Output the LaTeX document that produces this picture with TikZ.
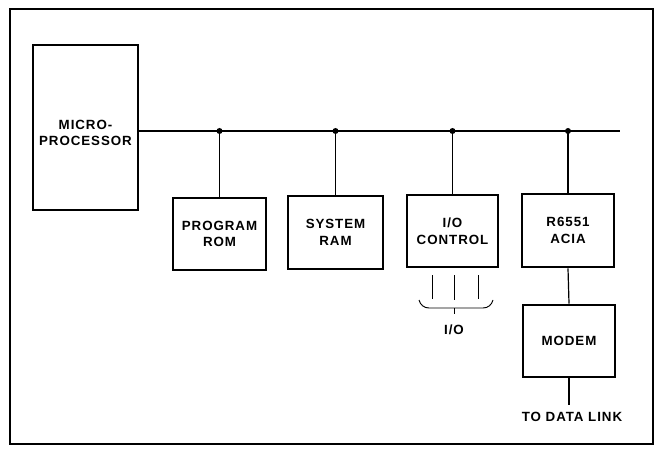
\documentclass[tikz,border=0pt]{standalone}
\usepackage{fontspec}
\setmainfont{Liberation Sans}[LetterSpace=7]
\begin{document}
\begin{tikzpicture}[x=0.75pt,y=-0.75pt,
  blk/.style={draw,line width=2.1pt,inner sep=0pt,align=center,font=\bfseries\fontsize{10}{12.5}\selectfont},
  lbl/.style={inner sep=1pt,align=center,font=\bfseries\fontsize{10}{12}\selectfont},
  wire/.style={line width=1.1pt},
  drop/.style={line width=0.9pt},
  thin/.style={line width=0.7pt},
  dot/.style={circle,fill,inner sep=0pt,minimum size=4.5pt}]
\useasboundingbox (0,0) rectangle (663,452);
\draw[line width=1.1pt] (10,9) rectangle (653,444);
\node[blk,minimum width=105*0.75pt,minimum height=165*0.75pt] (micro) at (85.5,127.5) {};
\node[lbl,font=\bfseries\fontsize{10}{12}\selectfont] (microtxt) at (85.5,133) {MICRO-\\PROCESSOR};
\node[blk,minimum width=93*0.75pt,minimum height=72*0.75pt] (rom) at (219.5,234) {PROGRAM\\ROM};
\node[blk,minimum width=95*0.75pt,minimum height=73*0.75pt] (ram) at (335.5,232.5) {SYSTEM\\RAM};
\node[blk,minimum width=91*0.75pt,minimum height=72*0.75pt] (io) at (452.5,231) {I/O\\CONTROL};
\node[blk,minimum width=92*0.75pt,minimum height=73*0.75pt] (acia) at (568,230.5) {R6551\\ACIA};
\node[blk,minimum width=92*0.75pt,minimum height=72*0.75pt] (modem) at (569,341) {MODEM};
\coordinate (busL) at (micro.east |- 0,131);
\coordinate (busR) at (620,131);
\draw[wire] (busL) -- (busR);
\foreach \n in {rom,ram,io,acia}{
  \node[dot] (d\n) at (\n.north |- busL) {};
  \draw[drop] (d\n.center) -- (\n.north);
}
\draw[drop] (acia.south) -- (modem.north);
\node[lbl] (tdl) at (572,417) {TO DATA LINK};
\draw[drop] (modem.south) -- (modem.south |- 0,405);
% I/O lines
\coordinate (l1t) at (432,275); \coordinate (l1b) at (432,299);
\coordinate (l2t) at (454,275); \coordinate (l2b) at (454,300);
\coordinate (l3t) at (478,275); \coordinate (l3b) at (478,299);
\draw[thin] (l1t) -- (l1b);
\draw[thin] (l2t) -- (l2b);
\draw[thin] (l3t) -- (l3b);
\coordinate (brL) at (419,300);
\coordinate (brR) at (493,300);
\draw[thin] (brL) to[out=-75,in=180] (429,308) -- (483,308) to[out=0,in=-105] (brR);
\draw[thin] (454,308) -- (454,314);
\node[lbl] (iolbl) at (454,330) {I/O};
\end{tikzpicture}
\end{document}
